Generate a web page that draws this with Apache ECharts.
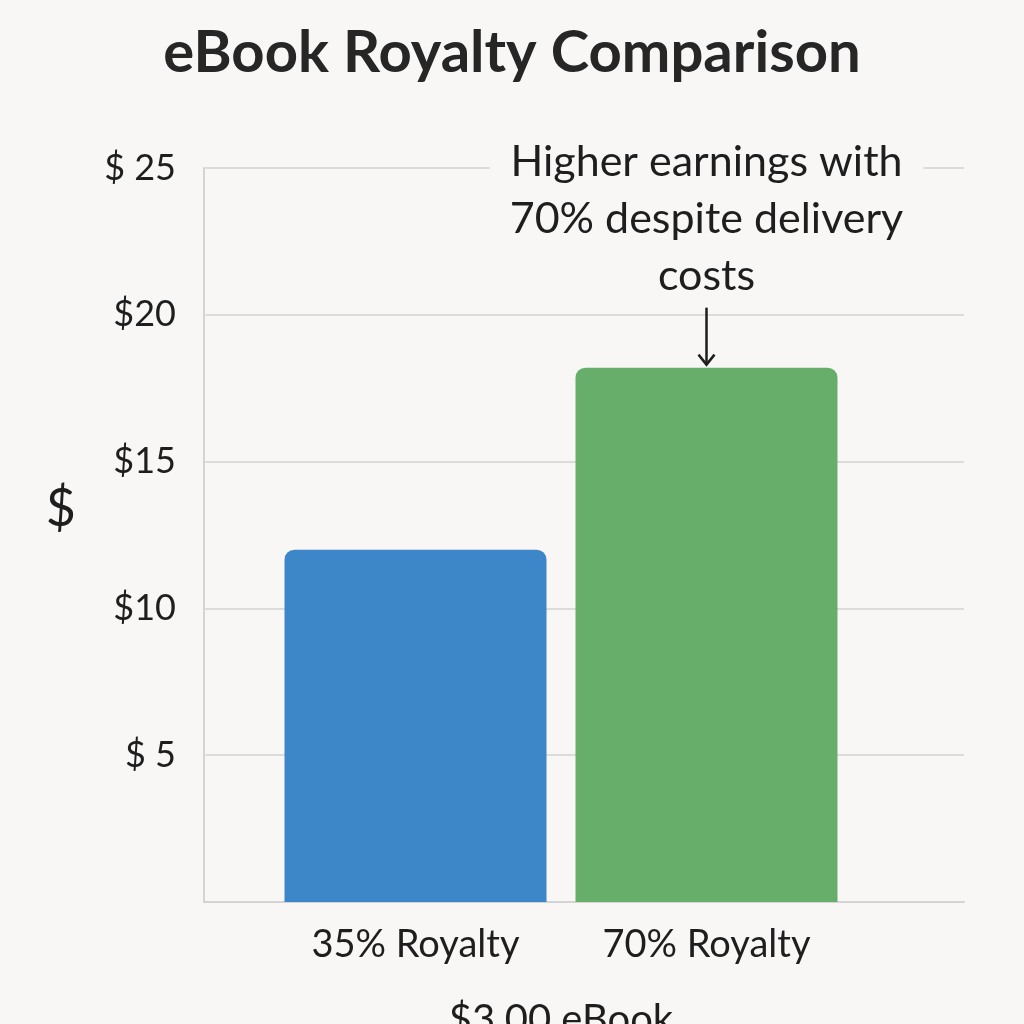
<!DOCTYPE html>
<html>
<head>
<meta charset="utf-8">
<script src="https://cdn.jsdelivr.net/npm/echarts@6/dist/echarts.min.js"></script>
<style>
  html, body { margin: 0; padding: 0; background: #f8f7f6; }
  #chart { width: 1024px; height: 1024px; }
</style>
</head>
<body>
<div id="chart"></div>
<script>
// data
const categories = ['35% Royalty', '70% Royalty'];
const royalties = [12, 18.2];
const barColors = ['#3d86c8', '#66ae6a'];
const yTicks = [0, 5, 10, 15, 20, 25];
const tickLabels = { 5: '$ 5', 10: '$10', 15: '$15', 20: '$20', 25: '$ 25' };
const noteLines = ['Higher earnings with', '70% despite delivery', 'costs'];

const FONT = 'Lato, "Noto Sans", sans-serif';
const chart = echarts.init(document.getElementById('chart'));

const option = {
  backgroundColor: '#f8f7f6',
  animation: false,
  title: {
    text: 'eBook Royalty Comparison',
    left: 'center',
    top: 19,
    textStyle: { fontFamily: FONT, fontSize: 58, fontWeight: 'bold', color: '#262626' }
  },
  grid: [
    { left: 204, right: 60, top: 168, bottom: 122, outerBoundsMode: 'none' },
    { left: 270, width: 582, top: 168, bottom: 122, outerBoundsMode: 'none' }
  ],
  xAxis: [
    {
      gridIndex: 0,
      type: 'category',
      data: [''],
      axisLine: { show: true, lineStyle: { color: '#d4d4d4', width: 2 } },
      axisTick: { show: false },
      axisLabel: { show: false }
    },
    {
      gridIndex: 1,
      type: 'category',
      data: categories,
      axisLine: { show: false },
      axisTick: { show: false },
      axisLabel: { margin: 24, fontFamily: FONT, fontSize: 38, color: '#1e1e1e' },
      name: '$3.00 eBook',
      nameLocation: 'middle',
      nameGap: 98,
      nameTextStyle: { fontFamily: FONT, fontSize: 40, color: '#1e1e1e' }
    }
  ],
  yAxis: [
    {
      gridIndex: 0,
      type: 'value',
      min: yTicks[0],
      max: yTicks[yTicks.length - 1],
      interval: 5,
      axisLine: { show: true, lineStyle: { color: '#d4d4d4', width: 2 } },
      axisTick: { show: false },
      splitLine: { lineStyle: { color: '#dcdcdc', width: 2 } },
      axisLabel: {
        margin: 28,
        fontFamily: FONT,
        fontSize: 36,
        color: '#1e1e1e',
        formatter: v => tickLabels[v] || ''
      },
      name: '$',
      nameLocation: 'middle',
      nameGap: 128,
      nameRotate: 0,
      nameTextStyle: { fontFamily: FONT, fontSize: 52, color: '#1e1e1e', verticalAlign: 'bottom' }
    },
    {
      gridIndex: 1,
      type: 'value',
      min: yTicks[0],
      max: yTicks[yTicks.length - 1],
      show: false
    }
  ],
  series: [{
    type: 'bar',
    xAxisIndex: 1,
    yAxisIndex: 1,
    barWidth: 262,
    data: royalties.map((v, i) => ({
      value: v,
      itemStyle: { color: barColors[i], borderRadius: [10, 10, 0, 0] }
    }))
  }]
};

chart.setOption(option);

// annotation anchored to the top of the 70% bar
const barTop = chart.convertToPixel({ seriesIndex: 0 }, [1, royalties[1]]);
const tipY = barTop[1] - 3;
const tailY = tipY - 57;
chart.setOption({
  graphic: [
    {
      type: 'text',
      x: barTop[0],
      y: tailY - 3,
      style: {
        text: noteLines.join('\n'),
        fontFamily: FONT,
        fontSize: 43,
        lineHeight: 57,
        fill: '#1e1e1e',
        align: 'center',
        verticalAlign: 'bottom',
        backgroundColor: '#f8f7f6',
        padding: [0, 20, 0, 20]
      },
      z: 100
    },
    {
      type: 'line',
      shape: { x1: barTop[0], y1: tailY, x2: barTop[0], y2: tipY },
      style: { stroke: '#1e1e1e', lineWidth: 2.5 },
      z: 100
    },
    {
      type: 'polyline',
      shape: { points: [[barTop[0] - 8, tipY - 10], [barTop[0], tipY], [barTop[0] + 8, tipY - 10]] },
      style: { stroke: '#1e1e1e', lineWidth: 2.5, fill: null },
      z: 100
    }
  ]
});
</script>
</body>
</html>
